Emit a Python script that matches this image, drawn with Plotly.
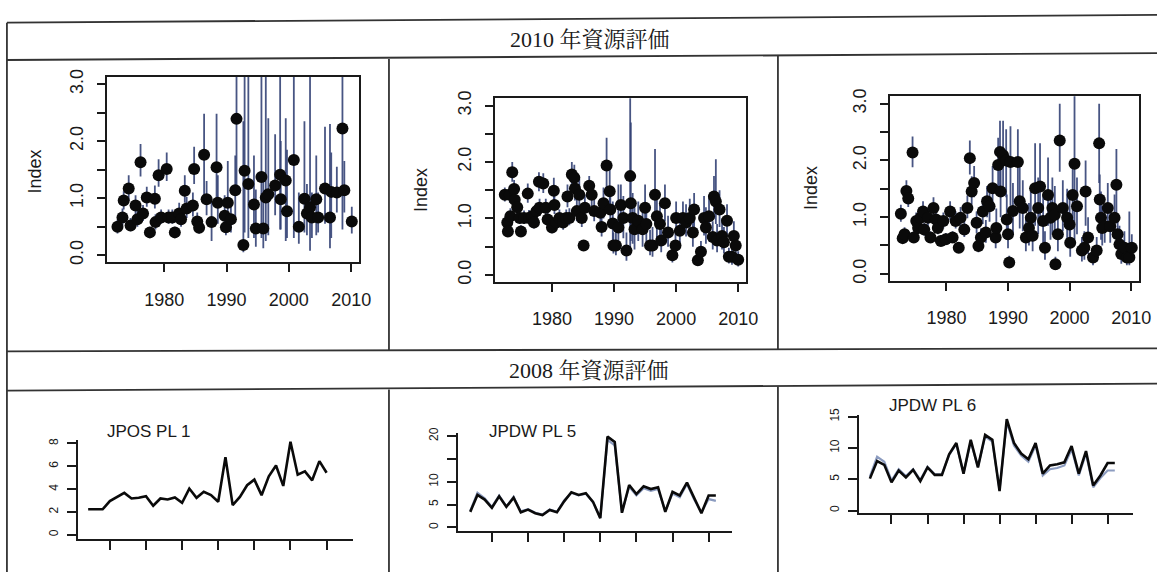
import plotly.graph_objects as go

W, H = 1169, 575

# ---------------- DATA ----------------
headers = ["2010 年資源評価", "2008 年資源評価"]

tl_year = [1972.5, 1973.3, 1973.5, 1974.3, 1974.6, 1975.4, 1975.7, 1976.2, 1976.6, 1977.2, 1977.7, 1978.5, 1978.6, 1979.1, 1979.5,
           1980.4, 1980.7, 1981.3, 1981.7, 1982.4, 1982.7, 1983.3, 1983.6, 1984.6, 1984.8, 1985.3, 1985.6, 1986.4, 1986.8, 1987.6,
           1988.4, 1988.6, 1989.7, 1989.9, 1990.2, 1990.7, 1991.4, 1991.6, 1992.7, 1992.9, 1993.5, 1994.4, 1994.7, 1995.6, 1995.9,
           1996.3, 1996.7, 1997.8, 1998.6, 1998.7, 1999.5, 1999.7, 2000.8, 2001.6, 2002.5, 2002.9, 2003.4, 2003.7, 2004.4, 2004.7,
           2005.8, 2006.6, 2006.8, 2007.7, 2008.6, 2008.9, 2010.1]
tl_index = [0.50, 0.66, 0.96, 1.17, 0.52, 0.87, 0.63, 1.63, 0.73, 1.01, 0.40, 0.99, 0.58, 1.40, 0.66,
            1.51, 0.66, 0.66, 0.40, 0.73, 0.63, 1.13, 0.82, 0.87, 1.51, 0.59, 0.48, 1.76, 0.98, 0.58,
            1.54, 0.92, 0.69, 0.49, 0.92, 0.63, 1.14, 2.39, 0.18, 1.48, 1.25, 0.89, 0.47, 1.37, 0.47,
            1.01, 1.07, 1.22, 1.41, 0.98, 1.31, 0.77, 1.67, 0.50, 0.99, 0.73, 0.84, 0.66, 0.98, 0.66,
            1.17, 0.66, 1.11, 1.10, 2.22, 1.14, 0.59]
tl_lower = [0.38, 0.52, 0.80, 0.95, 0.42, 0.70, 0.50, 1.38, 0.60, 0.85, 0.32, 0.82, 0.45, 1.20, 0.55,
            1.30, 0.55, 0.55, 0.32, 0.60, 0.50, 0.92, 0.65, 0.68, 1.25, 0.45, 0.38, 1.05, 0.70, 0.25,
            0.90, 0.55, 0.45, 0.35, 0.50, 0.40, 0.65, 1.20, 0.05, 0.40, 0.30, 0.30, 0.15, 0.30, 0.12,
            0.25, 0.35, 0.70, 0.45, 0.45, 0.25, 0.30, 0.30, 0.20, 0.40, 0.35, 0.08, 0.30, 0.35, 0.40,
            0.55, 0.12, 0.30, 0.75, 0.45, 0.75, 0.38]
tl_upper = [0.62, 0.82, 1.12, 1.40, 0.65, 1.05, 0.78, 1.95, 0.88, 1.20, 0.50, 1.22, 0.72, 1.68, 0.80,
            1.80, 0.80, 0.80, 0.50, 0.92, 0.80, 1.40, 1.02, 1.10, 1.90, 0.75, 0.62, 2.48, 1.30, 0.95,
            2.48, 1.40, 1.05, 0.70, 1.65, 0.95, 1.75, 3.30, 2.35, 3.30, 3.30, 1.75, 1.15, 3.30, 1.30,
            3.30, 2.40, 2.12, 3.30, 2.00, 2.40, 1.85, 3.30, 1.10, 2.35, 1.25, 3.30, 1.10, 1.75, 1.10,
            2.25, 2.30, 1.80, 1.55, 3.30, 1.65, 0.85]

tm_year = [1972.4, 1972.8, 1972.9, 1973.2, 1973.3, 1973.6, 1973.9, 1974.0, 1974.4, 1974.8, 1975.0, 1975.5, 1976.1, 1976.3, 1976.8,
           1977.1, 1977.5, 1977.9, 1978.0, 1978.6, 1979.0, 1979.3, 1980.0, 1980.3, 1980.4, 1980.7, 1981.2, 1981.8, 1982.3, 1982.5,
           1982.8, 1983.2, 1983.6, 1983.7, 1984.0, 1984.4, 1984.8, 1985.1, 1985.3, 1986.0, 1986.4, 1986.8, 1987.8, 1988.0, 1988.3,
           1988.8, 1989.3, 1989.4, 1989.8, 1989.9, 1990.3, 1990.7, 1991.1, 1991.5, 1992.0, 1992.6, 1992.7, 1993.0, 1993.3, 1993.9,
           1994.6, 1995.0, 1995.2, 1995.8, 1996.2, 1996.6, 1996.9, 1997.4, 1997.6, 1998.2, 1998.7, 1999.4, 1999.9, 2000.0, 2000.6,
           2001.1, 2001.6, 2002.2, 2002.7, 2002.9, 2003.5, 2004.0, 2004.5, 2004.8, 2005.3, 2005.9, 2006.1, 2006.4, 2006.6, 2007.0,
           2007.4, 2007.7, 2008.2, 2008.5, 2009.0, 2009.3, 2009.6, 2010.0]
tm_index = [1.42, 0.93, 0.77, 1.42, 1.04, 1.82, 1.52, 1.33, 1.20, 1.01, 0.77, 1.01, 1.44, 1.01, 1.04,
            0.93, 1.13, 1.65, 1.19, 1.62, 1.19, 0.98, 0.84, 1.49, 1.24, 0.93, 1.01, 0.93, 1.01, 1.39,
            1.01, 1.78, 1.72, 1.53, 1.13, 1.42, 1.01, 0.52, 1.19, 1.58, 1.42, 1.13, 1.10, 0.85, 1.27,
            1.94, 1.48, 1.16, 0.91, 0.52, 0.52, 0.84, 1.24, 1.01, 0.43, 1.75, 1.27, 1.01, 0.81, 0.96,
            0.81, 1.19, 0.90, 0.52, 0.52, 1.42, 1.04, 0.90, 0.61, 1.27, 0.75, 0.35, 0.52, 1.01, 0.78,
            1.01, 0.93, 1.01, 0.75, 1.16, 0.26, 0.41, 1.01, 0.84, 1.04, 0.67, 1.39, 1.30, 0.61, 1.16,
            0.69, 0.58, 0.96, 0.32, 0.32, 0.69, 0.52, 0.27]
tm_lower = [1.30, 0.82, 0.68, 1.28, 0.92, 1.65, 1.38, 1.20, 1.08, 0.90, 0.68, 0.90, 1.28, 0.90, 0.92,
            0.82, 1.00, 1.48, 1.05, 1.45, 1.05, 0.86, 0.74, 1.30, 1.08, 0.82, 0.88, 0.80, 0.88, 1.20,
            0.88, 1.55, 1.50, 1.32, 0.95, 1.20, 0.85, 0.45, 1.00, 1.38, 1.22, 0.95, 0.90, 0.68, 1.00,
            1.45, 1.10, 0.85, 0.60, 0.38, 0.35, 0.55, 0.85, 0.65, 0.25, 0.35, 0.60, 0.55, 0.45, 0.60,
            0.50, 0.85, 0.60, 0.35, 0.32, 0.90, 0.65, 0.55, 0.40, 0.95, 0.50, 0.22, 0.35, 0.75, 0.55,
            0.75, 0.68, 0.72, 0.50, 0.85, 0.16, 0.28, 0.70, 0.55, 0.72, 0.45, 1.00, 0.90, 0.40, 0.85,
            0.45, 0.38, 0.70, 0.20, 0.18, 0.48, 0.35, 0.15]
tm_upper = [1.55, 1.05, 0.88, 1.58, 1.18, 2.00, 1.68, 1.48, 1.35, 1.14, 0.88, 1.14, 1.62, 1.15, 1.18,
            1.06, 1.28, 1.82, 1.35, 1.80, 1.35, 1.12, 0.96, 1.72, 1.42, 1.06, 1.16, 1.08, 1.16, 1.60,
            1.18, 2.00, 1.95, 1.78, 1.35, 1.70, 1.20, 0.62, 1.42, 1.75, 1.65, 1.35, 1.35, 1.05, 1.55,
            2.43, 1.90, 1.50, 1.30, 0.75, 0.80, 1.60, 1.60, 1.40, 0.75, 3.20, 2.70, 1.45, 1.20, 1.30,
            1.20, 1.60, 1.25, 0.80, 0.85, 2.23, 1.45, 1.25, 0.90, 1.60, 1.05, 0.52, 0.75, 1.30, 1.05,
            1.30, 1.25, 1.35, 1.05, 1.45, 0.40, 0.60, 1.40, 1.20, 1.42, 0.95, 1.75, 2.05, 0.90, 1.50,
            1.00, 0.85, 1.25, 0.48, 0.50, 0.95, 0.75, 0.42]

tr_year = [1972.6, 1972.9, 1973.2, 1973.5, 1973.8, 1974.5, 1974.7, 1975.1, 1975.4, 1975.8, 1976.2, 1976.4, 1977.0, 1977.4, 1977.9,
           1978.3, 1978.6, 1979.1, 1979.5, 1979.9, 1980.6, 1981.0, 1981.5, 1982.0, 1982.3, 1982.9, 1983.4, 1983.8, 1984.1, 1984.5,
           1984.9, 1985.2, 1985.6, 1985.9, 1986.4, 1986.6, 1987.0, 1987.5, 1988.0, 1988.1, 1988.4, 1988.7, 1988.8, 1989.2, 1989.7,
           1989.8, 1990.0, 1990.2, 1990.4, 1990.8, 1991.6, 1991.9, 1992.4, 1992.9, 1993.4, 1993.7, 1994.0, 1994.4, 1994.9, 1995.2,
           1995.7, 1996.0, 1996.5, 1996.9, 1997.2, 1997.6, 1997.7, 1998.1, 1998.4, 1998.9, 1999.6, 2000.0, 2000.1, 2000.5, 2000.8,
           2001.2, 2002.0, 2002.4, 2002.6, 2003.0, 2003.8, 2004.4, 2004.8, 2004.9, 2005.1, 2005.3, 2005.7, 2006.2, 2006.6, 2007.3,
           2007.6, 2007.8, 2008.1, 2008.4, 2008.9, 2009.3, 2009.7, 2010.1]
tr_index = [1.06, 0.63, 0.70, 1.46, 1.33, 2.14, 0.64, 0.93, 0.81, 0.99, 1.10, 0.78, 0.99, 0.64, 1.16,
            0.96, 0.81, 0.58, 0.93, 0.61, 1.10, 0.64, 0.93, 0.46, 0.99, 0.78, 1.16, 2.04, 1.45, 1.60,
            0.90, 0.49, 0.64, 1.10, 0.73, 1.28, 1.19, 1.51, 0.64, 0.81, 1.92, 2.15, 1.45, 2.09, 2.00,
            0.96, 0.70, 0.20, 1.97, 1.11, 1.97, 1.28, 1.16, 0.64, 0.81, 0.99, 0.67, 1.51, 1.16, 1.54,
            0.93, 0.46, 1.39, 0.99, 1.16, 1.04, 0.17, 0.70, 2.35, 1.16, 0.99, 0.87, 0.55, 1.39, 1.94,
            1.19, 0.41, 0.46, 1.45, 0.64, 0.29, 0.41, 2.30, 1.31, 0.99, 0.81, 0.84, 1.16, 0.84, 0.99,
            1.57, 0.70, 0.52, 0.35, 0.46, 0.29, 0.29, 0.46]
tr_lower = [0.92, 0.55, 0.60, 1.30, 1.18, 1.88, 0.55, 0.80, 0.70, 0.85, 0.95, 0.67, 0.85, 0.55, 1.00,
            0.82, 0.70, 0.50, 0.80, 0.52, 0.95, 0.55, 0.80, 0.38, 0.82, 0.65, 0.98, 1.75, 1.22, 1.35,
            0.72, 0.38, 0.50, 0.88, 0.55, 1.00, 0.92, 1.15, 0.45, 0.55, 1.40, 1.55, 1.00, 1.50, 1.35,
            0.60, 0.45, 0.12, 1.20, 0.70, 1.20, 0.80, 0.75, 0.40, 0.50, 0.60, 0.40, 0.85, 0.70, 0.90,
            0.55, 0.25, 0.85, 0.60, 0.70, 0.65, 0.08, 0.40, 1.80, 0.75, 0.60, 0.50, 0.30, 0.85, 0.60,
            0.70, 0.22, 0.25, 0.85, 0.35, 0.15, 0.22, 1.60, 0.80, 0.60, 0.50, 0.55, 0.75, 0.55, 0.65,
            1.00, 0.45, 0.30, 0.18, 0.25, 0.15, 0.15, 0.28]
tr_upper = [1.22, 0.73, 0.82, 1.65, 1.50, 2.42, 0.75, 1.08, 0.95, 1.15, 1.28, 0.90, 1.15, 0.75, 1.35,
            1.12, 0.95, 0.68, 1.08, 0.72, 1.28, 0.75, 1.10, 0.55, 1.18, 0.93, 1.38, 2.35, 1.72, 1.90,
            1.10, 0.62, 0.80, 1.35, 0.95, 1.55, 1.50, 1.90, 0.90, 1.15, 2.40, 2.70, 2.00, 2.70, 2.55,
            1.40, 1.05, 0.32, 2.60, 1.60, 2.55, 1.90, 1.65, 1.00, 1.25, 1.45, 1.05, 2.30, 1.70, 2.30,
            1.40, 0.75, 2.05, 1.45, 1.70, 1.55, 0.30, 1.05, 3.00, 1.65, 1.50, 1.30, 0.90, 2.00, 3.30,
            1.70, 0.65, 0.75, 2.00, 1.00, 0.48, 0.65, 3.00, 1.75, 1.45, 1.20, 1.20, 1.60, 1.20, 1.40,
            2.20, 1.00, 0.85, 0.60, 0.75, 0.50, 1.10, 0.70]

top_xticks = [1980, 1990, 2000, 2010]
top_yticks = [0.0, 0.5, 1.0, 1.5, 2.0, 2.5, 3.0]
top_yticktext = ["0.0", "", "1.0", "", "2.0", "", "3.0"]

pl_titles = ["JPOS PL 1", "JPDW PL 5", "JPDW PL 6"]
pl1_year = list(range(1972, 2006))
pl1_main = [2.23, 2.23, 2.23, 2.95, 3.32, 3.67, 3.18, 3.24, 3.38, 2.54, 3.18, 3.09, 3.27, 2.80, 4.05, 3.24, 3.76,
            3.47, 2.89, 6.79, 2.60, 3.32, 4.34, 4.83, 3.47, 5.12, 6.07, 4.28, 8.15, 5.26, 5.55, 4.77, 6.45, 5.43]
pl5_year = list(range(1972, 2007))
pl5_main = [3.4, 7.1, 6.1, 4.3, 6.8, 4.5, 6.5, 3.3, 3.9, 3.1, 2.7, 3.8, 3.3, 5.7, 7.7, 7.1, 7.5, 5.6, 2.0, 19.9,
            18.7, 3.2, 9.3, 7.3, 9.0, 8.4, 8.8, 3.4, 7.8, 7.0, 9.8, 6.3, 3.1, 7.0, 7.0]
pl5_alt = [3.6, 7.6, 6.4, 4.5, 7.0, 4.6, 6.7, 3.5, 4.0, 3.2, 2.8, 3.9, 3.4, 5.9, 7.6, 7.0, 7.4, 5.5, 2.1, 19.2,
           18.0, 3.4, 8.9, 7.0, 8.6, 8.0, 8.4, 3.6, 7.4, 6.6, 9.5, 6.1, 3.3, 6.2, 5.8]
pl6_year = list(range(1972, 2007))
pl6_main = [5.1, 7.9, 7.3, 4.5, 6.4, 5.3, 6.5, 4.7, 6.9, 5.7, 5.7, 9.0, 10.8, 5.9, 11.3, 6.9, 12.1, 11.3, 3.1,
            14.6, 10.8, 9.1, 8.2, 10.8, 5.9, 7.2, 7.4, 7.7, 10.3, 5.9, 9.5, 4.0, 5.6, 7.6, 7.6]
pl6_alt = [5.4, 8.6, 7.8, 4.8, 6.6, 5.5, 6.6, 4.9, 7.0, 5.8, 5.8, 8.9, 10.6, 6.0, 11.0, 7.0, 11.8, 11.0, 3.3,
           14.2, 10.4, 8.8, 7.8, 10.4, 5.6, 6.6, 6.8, 7.2, 9.8, 5.6, 9.1, 3.7, 5.2, 6.4, 6.4]
bottom_xticks = [1975, 1980, 1985, 1990, 1995, 2000, 2005]
pl1_yticks = [0, 2, 4, 6, 8]
pl1_yticktext = ["0", "2", "4", "6", "8"]
pl5_yticks = [0, 5, 10, 15, 20]
pl5_yticktext = ["0", "5", "10", "", "20"]
pl6_yticks = [0, 5, 10, 15]
pl6_yticktext = ["0", "5", "10", "15"]

# ---------------- LAYOUT HELPERS ----------------
def fx(x):
    return x / W

def fy(y):
    return 1 - y / H

INK = "#1a1a1a"
BAR = "rgba(52,66,118,0.9)"
SANS = "Liberation Sans, Arial, sans-serif"

fig = go.Figure()

top_panels = [
    (tl_year, tl_index, tl_lower, tl_upper, (108, 70, 363, 259), (35, 167)),
    (tm_year, tm_index, tm_lower, tm_upper, (500, 92, 754, 279), (426, 186)),
    (tr_year, tr_index, tr_lower, tr_upper, (899, 90, 1151, 278), (820, 184)),
]

annotations = []
layout_axes = {}
for i, (xs, ys, lo, hi, box, lab) in enumerate(top_panels):
    n = i + 1
    xa, ya = ("x" if n == 1 else f"x{n}"), ("y" if n == 1 else f"y{n}")
    up = [h - v for h, v in zip(hi, ys)]
    dn = [v - l for v, l in zip(ys, lo)]
    fig.add_trace(go.Scatter(
        x=xs, y=ys, mode="markers", xaxis=xa, yaxis=ya, hoverinfo="skip",
        marker=dict(size=2, color="rgba(0,0,0,0)"),
        error_y=dict(type="data", symmetric=False, array=up, arrayminus=dn,
                     width=0, thickness=1.8, color=BAR)))
    fig.add_trace(go.Scatter(
        x=xs, y=ys, mode="markers", xaxis=xa, yaxis=ya, hoverinfo="skip",
        marker=dict(size=12, color="#0a0a0a", line=dict(width=0))))
    x0, y0, x1, y1 = box
    layout_axes[f"xaxis{'' if n == 1 else n}"] = dict(
        domain=[fx(x0), fx(x1)], range=[1970.8, 2011.3], anchor=ya,
        tickvals=top_xticks, ticks="outside", ticklen=8, tickwidth=1.6, tickcolor=INK,
        showline=True, mirror=True, linecolor=INK, linewidth=1.8,
        showgrid=False, zeroline=False, ticklabelstandoff=12,
        tickfont=dict(family=SANS, size=18, color=INK))
    layout_axes[f"yaxis{'' if n == 1 else n}"] = dict(
        domain=[fy(y1), fy(y0)], range=[-0.12, 3.13], anchor=xa,
        tickvals=top_yticks, ticktext=top_yticktext, tickangle=-90,
        ticks="outside", ticklen=8, tickwidth=1.6, tickcolor=INK,
        showline=True, mirror=True, linecolor=INK, linewidth=1.8,
        showgrid=False, zeroline=False, ticklabelstandoff=7,
        tickfont=dict(family=SANS, size=18, color=INK))
    annotations.append(dict(text="Index", x=fx(lab[0]), y=fy(lab[1]), xref="paper", yref="paper",
                            showarrow=False, textangle=-90, xanchor="center", yanchor="middle",
                            font=dict(family=SANS, size=18, color=INK)))

bottom_panels = [
    (pl1_year, pl1_main, None, (79, 440, 357, 541), [1970.62, 2008.7], [-0.34, 8.34],
     pl1_yticks, pl1_yticktext, (150, 432)),
    (pl5_year, pl5_main, pl5_alt, (463, 433, 740, 533), [1970.34, 2008.29], [-0.75, 20.75],
     pl5_yticks, pl5_yticktext, (538, 432)),
    (pl6_year, pl6_main, pl6_alt, (868, 415, 1145, 515), [1970.5, 2008.56], [-0.42, 15.26],
     pl6_yticks, pl6_yticktext, (942, 405)),
]
for j, (xs, ys, alt, box, xr, yr, yt, ytt, tpos) in enumerate(bottom_panels):
    n = j + 4
    xa, ya = f"x{n}", f"y{n}"
    if alt is not None:
        fig.add_trace(go.Scatter(x=xs, y=alt, mode="lines", xaxis=xa, yaxis=ya, hoverinfo="skip",
                                 line=dict(color="#8c9cc0", width=2.2)))
    fig.add_trace(go.Scatter(x=xs, y=ys, mode="lines", xaxis=xa, yaxis=ya, hoverinfo="skip",
                             line=dict(color="#0a0a0a", width=2.6)))
    x0, y0, x1, y1 = box
    layout_axes[f"xaxis{n}"] = dict(
        domain=[fx(x0), fx(x1)], range=xr, anchor=ya,
        tickvals=bottom_xticks, showticklabels=False, ticks="outside", ticklen=9, tickwidth=2,
        tickcolor=INK, showline=True, mirror=False, linecolor=INK, linewidth=2.2,
        showgrid=False, zeroline=False)
    layout_axes[f"yaxis{n}"] = dict(
        domain=[fy(y1), fy(y0)], range=yr, anchor=xa,
        tickvals=yt, ticktext=ytt, tickangle=-90, ticks="outside", ticklen=9, tickwidth=2,
        tickcolor=INK, showline=True, mirror=False, linecolor=INK, linewidth=2.2,
        showgrid=False, zeroline=False, ticklabelstandoff=4,
        tickfont=dict(family=SANS, size=12, color=INK))
    annotations.append(dict(text=pl_titles[j], x=fx(tpos[0]), y=fy(tpos[1]), xref="paper", yref="paper",
                            showarrow=False, xanchor="center", yanchor="middle",
                            font=dict(family=SANS, size=17, color=INK)))

SERIF = "Liberation Serif, Noto Serif CJK JP, Noto Sans CJK JP, serif"
annotations.append(dict(text=headers[0], x=fx(596), y=fy(32), xref="paper", yref="paper", showarrow=False,
                        xanchor="center", yanchor="middle", font=dict(family=SERIF, size=22, color=INK)))
annotations.append(dict(text=headers[1], x=fx(595), y=fy(370), xref="paper", yref="paper", showarrow=False,
                        xanchor="center", yanchor="middle", font=dict(family=SERIF, size=22, color=INK)))

# table rules (scan is slightly tilted)
rules = [
    ((7, 15), (1169, 7)),
    ((7, 53), (1169, 46)),
    ((7, 350), (1169, 347)),
    ((7, 390), (1169, 383)),
    ((7, 15), (7, 575)),
    ((393, 52), (393, 349)),
    ((393, 389), (393, 575)),
    ((786, 49), (786, 348)),
    ((786, 386), (786, 575)),
]
shapes = [dict(type="line", xref="paper", yref="paper", x0=fx(a[0]), y0=fy(a[1]), x1=fx(b[0]), y1=fy(b[1]),
               line=dict(color="#333333", width=1.8)) for a, b in rules]

fig.update_layout(
    width=W, height=H, margin=dict(l=0, r=0, t=0, b=0),
    paper_bgcolor="white", plot_bgcolor="white", showlegend=False,
    annotations=annotations, shapes=shapes, **layout_axes)

fig.write_html("out.html")
